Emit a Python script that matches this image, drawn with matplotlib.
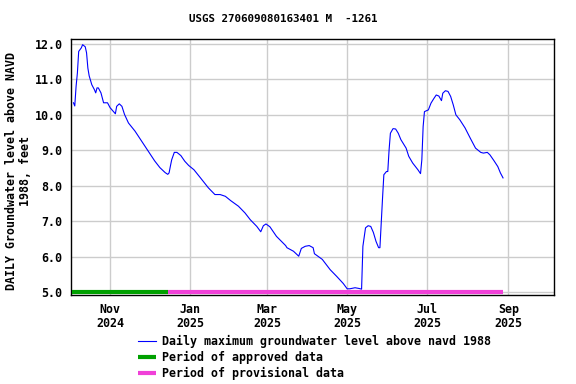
import matplotlib
matplotlib.use("Agg")
import matplotlib.pyplot as plt
import matplotlib.dates as mdates
import pandas as pd
from matplotlib.lines import Line2D

dates = ["2024-10-04", "2024-10-05", "2024-10-06", "2024-10-07", "2024-10-08", "2024-10-10",
         "2024-10-11", "2024-10-13", "2024-10-14", "2024-10-15", "2024-10-16", "2024-10-18",
         "2024-10-20", "2024-10-21", "2024-10-22", "2024-10-23", "2024-10-25", "2024-10-26",
         "2024-10-27", "2024-10-30", "2024-11-01", "2024-11-05", "2024-11-06", "2024-11-08",
         "2024-11-10", "2024-11-12", "2024-11-15", "2024-11-20", "2024-11-25", "2024-11-30",
         "2024-12-05", "2024-12-09", "2024-12-13", "2024-12-15", "2024-12-16", "2024-12-17",
         "2024-12-18", "2024-12-20", "2024-12-22", "2024-12-25", "2024-12-28", "2024-12-31",
         "2025-01-04", "2025-01-09", "2025-01-15", "2025-01-20", "2025-01-24", "2025-01-28",
         "2025-02-01", "2025-02-07", "2025-02-12", "2025-02-16", "2025-02-21", "2025-02-24",
         "2025-02-26", "2025-02-28", "2025-03-03", "2025-03-08", "2025-03-15", "2025-03-16",
         "2025-03-21", "2025-03-25", "2025-03-27", "2025-03-30", "2025-04-02", "2025-04-05",
         "2025-04-06", "2025-04-12", "2025-04-18", "2025-04-23", "2025-04-28", "2025-05-01",
         "2025-05-03", "2025-05-07", "2025-05-10", "2025-05-12", "2025-05-13", "2025-05-15",
         "2025-05-17", "2025-05-19", "2025-05-21", "2025-05-23", "2025-05-25", "2025-05-26",
         "2025-05-27", "2025-05-28", "2025-05-29", "2025-05-31", "2025-06-01", "2025-06-02",
         "2025-06-03", "2025-06-05", "2025-06-07", "2025-06-09", "2025-06-11", "2025-06-15",
         "2025-06-17", "2025-06-20", "2025-06-24", "2025-06-26", "2025-06-27", "2025-06-28",
         "2025-06-29", "2025-07-02", "2025-07-04", "2025-07-06", "2025-07-08", "2025-07-10",
         "2025-07-12", "2025-07-13", "2025-07-15", "2025-07-17", "2025-07-19", "2025-07-21",
         "2025-07-23", "2025-07-26", "2025-07-30", "2025-08-03", "2025-08-07", "2025-08-11",
         "2025-08-13", "2025-08-16", "2025-08-18", "2025-08-21", "2025-08-24", "2025-08-26",
         "2025-08-28"]
levels = [10.34, 10.25, 10.80, 11.18, 11.79, 11.89,
          11.98, 11.92, 11.75, 11.32, 11.10, 10.85,
          10.71, 10.62, 10.76, 10.76, 10.62, 10.48,
          10.34, 10.34, 10.20, 10.03, 10.24, 10.31,
          10.24, 10.01, 9.77, 9.54, 9.26, 8.98,
          8.70, 8.51, 8.37, 8.32, 8.36, 8.55,
          8.73, 8.94, 8.94, 8.85, 8.69, 8.57,
          8.45, 8.22, 7.94, 7.75, 7.75, 7.70,
          7.58, 7.42, 7.23, 7.04, 6.85, 6.70,
          6.87, 6.92, 6.84, 6.57, 6.31, 6.25,
          6.15, 6.01, 6.23, 6.29, 6.31, 6.25,
          6.08, 5.92, 5.63, 5.44, 5.24, 5.09,
          5.09, 5.12, 5.10, 5.08, 6.29, 6.81,
          6.87, 6.85, 6.68, 6.43, 6.25, 6.25,
          6.95, 7.65, 8.31, 8.40, 8.40, 9.01,
          9.48, 9.61, 9.60, 9.48, 9.30, 9.06,
          8.83, 8.64, 8.45, 8.34, 8.73, 9.67,
          10.09, 10.14, 10.33, 10.45, 10.56, 10.53,
          10.40, 10.61, 10.68, 10.66, 10.52, 10.28,
          10.00, 9.86, 9.63, 9.34, 9.06, 8.94,
          8.92, 8.94, 8.87, 8.71, 8.54, 8.36,
          8.22]

approved_period = ["2024-10-03", "2024-12-15"]
provisional_period = ["2024-12-15", "2025-08-28"]
period_level = 5.0

title = "USGS 270609080163401 M  -1261"
ylabel = "DAILY Groundwater level above NAVD\n1988, feet"
yticks = [5.0, 6.0, 7.0, 8.0, 9.0, 10.0, 11.0, 12.0]
xtick_dates = ["2024-11-01", "2025-01-01", "2025-03-01", "2025-05-01", "2025-07-01", "2025-09-01"]
xtick_labels = ["Nov\n2024", "Jan\n2025", "Mar\n2025", "May\n2025", "Jul\n2025", "Sep\n2025"]
legend_labels = ["Daily maximum groundwater level above navd 1988",
                 "Period of approved data", "Period of provisional data"]

FONT = "DejaVu Sans Mono"
fs = 8.4

fig = plt.figure(figsize=(5.76, 3.84), dpi=100)
ax = fig.add_axes([71/576, 1-295/384, (554-71)/576, (295-39)/384])

x = pd.to_datetime(dates)
ax.plot(x, levels, color="#0000ff", lw=0.8, zorder=3)
ax.plot(pd.to_datetime(approved_period), [period_level]*2, color="#00a000", lw=3.0,
        solid_capstyle="butt", zorder=4)
ax.plot(pd.to_datetime(provisional_period), [period_level]*2, color="#f040d8", lw=3.0,
        solid_capstyle="butt", zorder=4)

ax.set_xlim(pd.Timestamp("2024-10-02 03:00"), pd.Timestamp("2025-10-05 22:00"))
ax.set_ylim(4.915, 12.14)
ax.set_yticks(yticks)
ax.set_yticklabels([f"{v:.1f}" for v in yticks], fontfamily=FONT, fontweight="bold", fontsize=fs)
ax.set_xticks(pd.to_datetime(xtick_dates))
ax.set_xticklabels(xtick_labels, fontfamily=FONT, fontweight="bold", fontsize=fs, linespacing=1.15)
ax.tick_params(axis="both", length=0, pad=6)
ax.tick_params(axis="x", pad=5.5)
ax.grid(True, color="#cccccc", lw=1.0)
ax.set_axisbelow(True)
for s in ax.spines.values():
    s.set_color("black")
    s.set_linewidth(1.0)

fig.text(283/576, 1-19/384, title, ha="center", va="center", fontfamily=FONT,
         fontweight="bold", fontsize=7.8)
fig.text(19/576, 1-171/384, ylabel, ha="center", va="center", rotation=90,
         fontfamily=FONT, fontweight="bold", fontsize=fs, linespacing=1.1)

handles = [Line2D([], [], color="#0000ff", lw=0.8),
           Line2D([], [], color="#00a000", lw=3.0, solid_capstyle="butt"),
           Line2D([], [], color="#f040d8", lw=3.0, solid_capstyle="butt")]
fig.legend(handles, legend_labels, loc="upper left", bbox_to_anchor=(136/576, 1-333/384),
           frameon=False, prop={"family": FONT, "weight": "bold", "size": fs},
           handlelength=1.55, handletextpad=0.45, labelspacing=0.25, borderpad=0.2,
           borderaxespad=0)

fig.savefig("out.png", dpi=100)
